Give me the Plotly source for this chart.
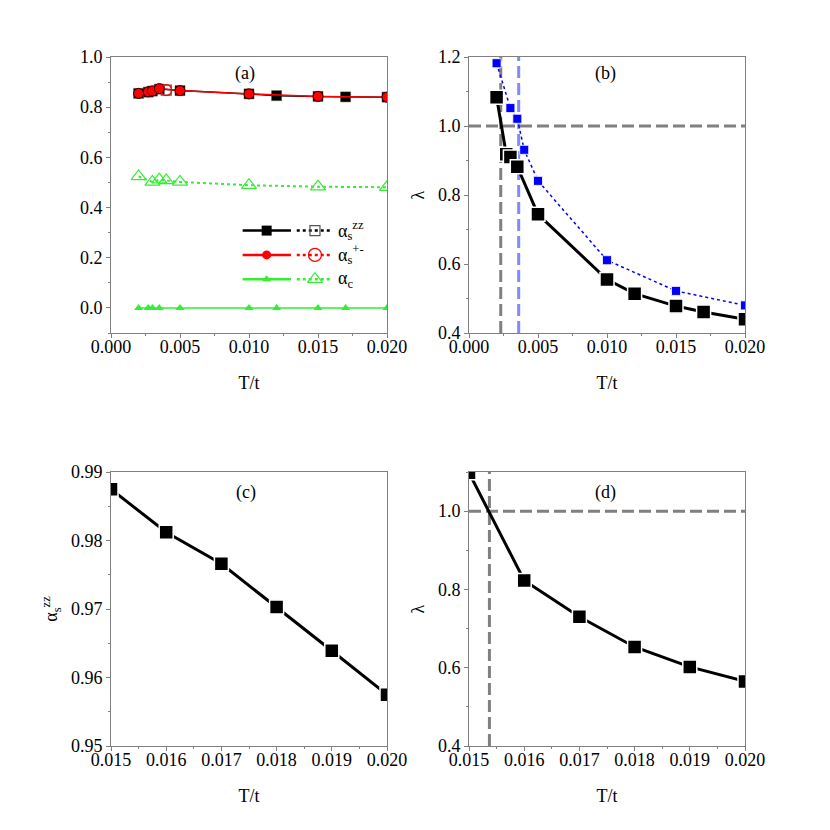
import plotly.graph_objects as go

# ---------------- data ----------------
# panel (a)
a_T = [0.002, 0.0027, 0.003, 0.0035, 0.005, 0.010, 0.012, 0.015, 0.017, 0.020]
a_szz = [0.855, 0.860, 0.864, 0.872, 0.866, 0.853, 0.846, 0.843, 0.841, 0.840]
a_spm_T = [0.002, 0.0027, 0.003, 0.0035, 0.005, 0.010, 0.015, 0.020]
a_spm = [0.855, 0.861, 0.865, 0.874, 0.866, 0.853, 0.843, 0.840]
a_open_T = [0.004]
a_szz_open = [0.868]
a_spm_open = [0.868]
a_c_open_T = [0.002, 0.003, 0.0035, 0.004, 0.005, 0.010, 0.015, 0.020]
a_c_open = [0.524, 0.502, 0.511, 0.508, 0.502, 0.489, 0.483, 0.481]
a_c = [0.0, 0.0, 0.0, 0.0, 0.0, 0.0, 0.0, 0.0, 0.0, 0.0]

# panel (b)
b_T = [0.002, 0.0027, 0.003, 0.0035, 0.005, 0.010, 0.012, 0.015, 0.017, 0.020]
b_lam = [1.083, 0.918, 0.910, 0.882, 0.744, 0.555, 0.514, 0.478, 0.461, 0.440]
b_T2 = [0.002, 0.003, 0.0035, 0.004, 0.005, 0.010, 0.015, 0.020]
b_lam2 = [1.182, 1.052, 1.021, 0.931, 0.841, 0.611, 0.522, 0.480]
b_Tc = 0.0023
b_Tc2 = 0.0036
lam_one = 1.0

# panel (c)
c_T = [0.015, 0.016, 0.017, 0.018, 0.019, 0.020]
c_szz = [0.9875, 0.9812, 0.9766, 0.9703, 0.9639, 0.9575]

# panel (d)
d_T = [0.015, 0.016, 0.017, 0.018, 0.019, 0.020]
d_lam = [1.098, 0.823, 0.730, 0.653, 0.602, 0.565]
d_Tc = 0.01537

# ---------------- style ----------------
FONT = "Liberation Serif, Times New Roman, serif"
AX = "#808080"
GRAY = "#808080"
BLUEV = "rgba(80,100,255,0.75)"
GREEN = "#33ee33"
DASH = "12px,5px"

W = 830
OFF = 8  # page body margin


def xdom(p0, p1):
    return [(p0 - OFF) / W, (p1 - OFF) / W]


def ydom(top, bot):
    return [1 - (bot - OFF) / W, 1 - (top - OFF) / W]


XD_L = xdom(111, 387)
XD_R = xdom(469, 745)
YD_T = ydom(57, 333)
YD_B = ydom(472, 746)

fig = go.Figure()


def sc(x, y, xa, ya, **kw):
    fig.add_trace(go.Scatter(x=x, y=y, xaxis=xa, yaxis=ya, showlegend=False,
                             hoverinfo="skip", **kw))


# ---- panel (a)
sc(a_T, a_szz, "x", "y", mode="lines+markers",
   line=dict(color="black", width=1.5),
   marker=dict(symbol="square", size=10, color="black", line=dict(color="#444", width=0.5)))
sc(a_open_T, a_szz_open, "x", "y", mode="markers",
   marker=dict(symbol="square-open", size=10, color="#555", line=dict(width=1.2)))
sc(a_spm_T, a_spm, "x", "y", mode="lines+markers",
   line=dict(color="red", width=1.5),
   marker=dict(symbol="circle", size=10, color="red", line=dict(color="#330000", width=1)))
sc(a_open_T, a_spm_open, "x", "y", mode="markers",
   marker=dict(symbol="circle-open", size=11, color="red", line=dict(width=1.2)))
sc(a_c_open_T, a_c_open, "x", "y", mode="lines+markers",
   line=dict(color=GREEN, width=2, dash="dot"),
   marker=dict(symbol="triangle-up-open", size=13, color=GREEN, line=dict(width=1.2)))
sc(a_T, a_c, "x", "y", mode="lines+markers",
   line=dict(color=GREEN, width=1.5),
   marker=dict(symbol="triangle-up", size=8, color=GREEN))

# ---- panel (b)
sc(b_T, b_lam, "x2", "y2", mode="lines+markers",
   line=dict(color="black", width=3),
   marker=dict(symbol="square", size=14, color="black", line=dict(color="white", width=1.5)))
sc(b_T2, b_lam2, "x2", "y2", mode="lines+markers",
   line=dict(color="#0000ff", width=1.5, dash="dot"),
   marker=dict(symbol="square", size=9, color="#0000ff", line=dict(color="white", width=0.8)))

# ---- panel (c)
sc(c_T, c_szz, "x3", "y3", mode="lines+markers",
   line=dict(color="black", width=3),
   marker=dict(symbol="square", size=14, color="black", line=dict(color="white", width=1.5)))

# ---- panel (d)
sc(d_T, d_lam, "x4", "y4", mode="lines+markers",
   line=dict(color="black", width=3),
   marker=dict(symbol="square", size=14, color="black", line=dict(color="white", width=1.5)))

# ---- legend of panel (a), drawn on an invisible overlay subplot
LEG_ROWS = [0.371, 0.283, 0.195]
LEG_SOLID = [0.477, 0.652]
LEG_DOT = [0.673, 0.793]
LEG_M1 = 0.564
LEG_M2 = 0.739
LEG_TX = 0.815
leg_items = [
    ("black", "square", "square-open", 10, "#555", 10, "α<sub>s</sub><sup>zz</sup>"),
    ("red", "circle", "circle-open", 9, "red", 13, "α<sub>s</sub><sup>+-</sup>"),
    (GREEN, "triangle-up", "triangle-up-open", 8, GREEN, 13, "α<sub>c</sub>"),
]
for ry, (col, s1, s2, sz1, c2, sz2, txt) in zip(LEG_ROWS, leg_items):
    sc(LEG_SOLID, [ry, ry], "x9", "y9", mode="lines", line=dict(color=col, width=2.5))
    sc(LEG_DOT, [ry, ry], "x9", "y9", mode="lines", line=dict(color=col, width=2.5, dash="dot"))
    sc([LEG_M1], [ry], "x9", "y9", mode="markers", marker=dict(symbol=s1, size=sz1, color=col))
    sc([LEG_M2], [ry], "x9", "y9", mode="markers",
       marker=dict(symbol=s2, size=sz2, color=c2, line=dict(width=1.2)))
    fig.add_annotation(x=LEG_TX, y=ry, xref="x9", yref="y9", text=txt, showarrow=False,
                       xanchor="left", yanchor="middle", font=dict(family=FONT, size=18, color="black"))


# ---- reference lines
def vline(xv, xa, ya, col):
    fig.add_shape(type="line", x0=xv, x1=xv, y0=0, y1=1, xref=xa, yref=ya + " domain",
                  line=dict(color=col, width=3, dash=DASH), layer="below")


def hline(yv, xa, ya, col):
    fig.add_shape(type="line", x0=0, x1=1, y0=yv, y1=yv, xref=xa + " domain", yref=ya,
                  line=dict(color=col, width=3, dash=DASH), layer="below")


vline(b_Tc, "x2", "y2", GRAY)
vline(b_Tc2, "x2", "y2", BLUEV)
hline(lam_one, "x2", "y2", GRAY)
vline(d_Tc, "x4", "y4", GRAY)
hline(lam_one, "x4", "y4", GRAY)

# ---- panel labels
for lab, xa, ya, xx, yy in [("(a)", "x", "y", 0.486, 0.94), ("(b)", "x2", "y2", 0.493, 0.94),
                            ("(c)", "x3", "y3", 0.489, 0.927), ("(d)", "x4", "y4", 0.493, 0.927)]:
    fig.add_annotation(x=xx, y=yy, xref=xa + " domain", yref=ya + " domain", text=lab,
                       showarrow=False, xanchor="center", yanchor="middle",
                       font=dict(family=FONT, size=18, color="black"))

# ---- axes
tickfont = dict(family=FONT, size=18, color="black")
titlefont = dict(family=FONT, size=18, color="black")


def xax(dom, anchor, rng, dtick, mdt, fmt, t0=0):
    return dict(domain=dom, anchor=anchor, range=rng, dtick=dtick, tick0=t0, tickformat=fmt,
                automargin=False, ticklabelstandoff=-7,
                showline=True, linecolor=AX, linewidth=1, mirror=True, ticks="outside",
                ticklen=4, tickcolor=AX, tickfont=tickfont, showgrid=False, zeroline=False,
                minor=dict(ticks="outside", ticklen=2, tickcolor=AX, dtick=mdt, tick0=t0),
                title=dict(text="T/t", font=titlefont, standoff=20))


def yax(dom, anchor, rng, dtick, mdt, fmt, title, standoff, t0=0):
    return dict(domain=dom, anchor=anchor, range=rng, dtick=dtick, tick0=t0, tickformat=fmt,
                automargin=False,
                showline=True, linecolor=AX, linewidth=1, mirror=True, ticks="outside",
                ticklen=4, tickcolor=AX, tickfont=tickfont, showgrid=False, zeroline=False,
                minor=dict(ticks="outside", ticklen=2, tickcolor=AX, dtick=mdt, tick0=t0),
                title=dict(text=title, font=titlefont, standoff=standoff))


def yright(over, anchor, rng, dtick, mdt, t0=0):
    return dict(overlaying=over, anchor=anchor, side="right", range=rng, dtick=dtick, tick0=t0,
                automargin=False,
                showline=False, ticks="inside", ticklen=4, tickcolor=AX, showticklabels=False,
                showgrid=False, zeroline=False,
                minor=dict(ticks="inside", ticklen=2, tickcolor=AX, dtick=mdt, tick0=t0))


fig.update_layout(
    template="none",
    width=W, height=W,
    margin=dict(l=0, r=0, t=0, b=0),
    paper_bgcolor="white", plot_bgcolor="rgba(0,0,0,0)",
    font=dict(family=FONT, size=18, color="black"),
    xaxis=xax(XD_L, "y", [0, 0.020], 0.005, 0.0025, ".3f"),
    yaxis=yax(YD_T, "x", [-0.1, 1.0], 0.2, 0.1, ".1f", None, 6),
    xaxis2=xax(XD_R, "y2", [0, 0.020], 0.005, 0.0025, ".3f"),
    yaxis2=yax(YD_T, "x2", [0.4, 1.2], 0.2, 0.1, ".1f", "λ", 8),
    xaxis3=xax(XD_L, "y3", [0.015, 0.020], 0.001, 0.0005, ".3f"),
    yaxis3=yax(YD_B, "x3", [0.95, 0.99], 0.01, 0.005, ".2f", "α<sub>s</sub><sup>zz</sup>", 8, 0.95),
    xaxis4=xax(XD_R, "y4", [0.015, 0.020], 0.001, 0.0005, ".3f"),
    yaxis4=yax(YD_B, "x4", [0.4, 1.1], 0.2, 0.1, ".1f", "λ", 8),
    yaxis5=yright("y", "x", [-0.1, 1.0], 0.2, 0.1),
    yaxis6=yright("y2", "x2", [0.4, 1.2], 0.2, 0.1),
    yaxis7=yright("y3", "x3", [0.95, 0.99], 0.01, 0.005, 0.95),
    yaxis8=yright("y4", "x4", [0.4, 1.1], 0.2, 0.1),
    xaxis9=dict(domain=XD_L, anchor="y9", range=[0, 1], visible=False),
    yaxis9=dict(domain=YD_T, anchor="x9", range=[0, 1], visible=False),
)

fig.write_html("out.html")
